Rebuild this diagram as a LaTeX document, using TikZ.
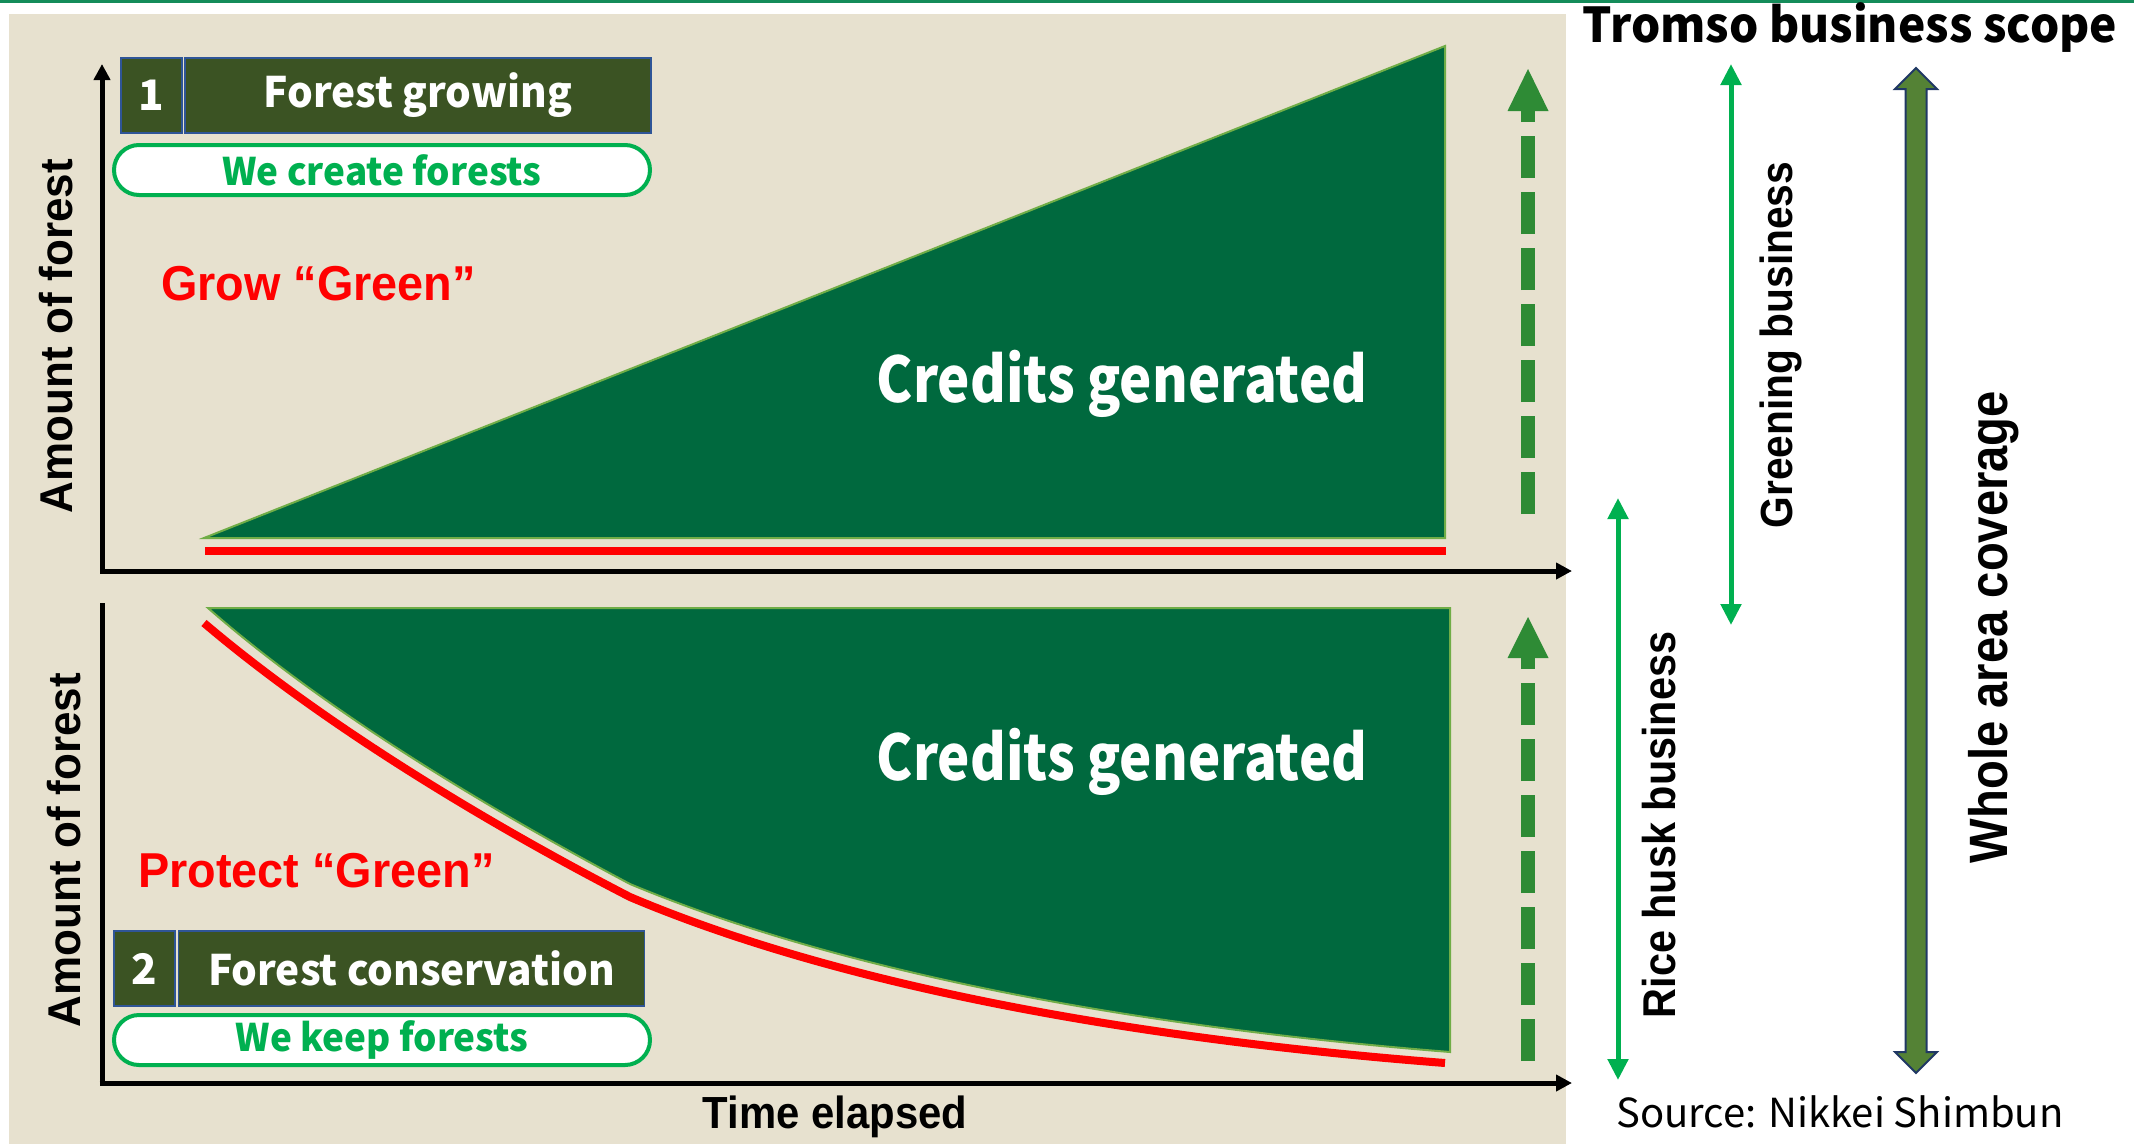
\documentclass[tikz,border=0pt]{standalone}
\usepackage{fontspec}
\usepackage{graphicx}
\setmainfont{Liberation Sans}
\newfontfamily\jpfont{Noto Sans CJK JP}
\usetikzlibrary{arrows.meta}
\definecolor{beige}{RGB}{231,225,207}
\definecolor{forest}{RGB}{0,105,62}
\definecolor{leaf}{RGB}{112,173,71}
\definecolor{olive}{RGB}{59,83,35}
\definecolor{navyb}{RGB}{47,85,151}
\definecolor{pillgreen}{RGB}{0,176,80}
\definecolor{dashgreen}{RGB}{46,139,53}
\definecolor{wholefill}{RGB}{84,130,53}
\definecolor{wholeedge}{RGB}{32,56,100}
\definecolor{topline}{RGB}{20,140,90}
\newcommand{\hsq}[2]{\scalebox{#1}[1]{#2}}
\begin{document}
\begin{tikzpicture}[x=1pt,y=-1pt,
  numbox/.style={draw=navyb, line width=1.5pt, fill=olive, text=white, minimum width=61pt, minimum height=75pt, inner sep=0pt, font=\jpfont\bfseries\fontsize{42}{42}\selectfont},
  titlebox/.style={numbox, minimum width=466pt},
  pill/.style={draw=pillgreen, line width=4pt, fill=white, rounded corners=25pt, minimum width=536pt, minimum height=50pt, inner sep=0pt, text=pillgreen, font=\jpfont\bfseries\fontsize{38}{38}\selectfont},
  redlabel/.style={text=red, anchor=base west, inner sep=0pt, font=\bfseries\fontsize{49}{49}\selectfont},
  axislabel/.style={rotate=90, anchor=base, inner sep=0pt, font=\bfseries\fontsize{46}{46}\selectfont},
  scopelabel/.style={rotate=90, anchor=base, inner sep=0pt, font=\bfseries\fontsize{46}{46}\selectfont},
  credits/.style={text=white, anchor=base, inner sep=0pt, font=\jpfont\bfseries\fontsize{63}{63}\selectfont},
  axis/.style={line width=5pt, -{Triangle[length=16pt,width=16pt]}},
  area/.style={fill=forest, draw=leaf, line width=2pt},
  lossline/.style={draw=red, line width=8pt},
  dasharrow/.style={draw=dashgreen, line width=14pt, dash pattern=on 42pt off 14pt},
  thinarrow/.style={draw=pillgreen, line width=5pt, {Triangle[length=21pt,width=20pt]}-{Triangle[length=21pt,width=20pt]}}
]
\useasboundingbox (0,0) rectangle (2134,1144);
% frame
\fill[topline] (0,0) rectangle (2134,2.5);
\fill[beige] (9,14) rectangle (1566,1144);

% upper chart
\path[area] (204,538) -- (1445,46) -- (1445,538) -- cycle;
\draw[lossline] (205,551) -- (1446,551);
\draw[axis] (102,571) -- (1572,571);
\draw[axis] (102,573.5) -- (102,64);

% lower chart
\path[area] (208,608) -- (1450,608) -- (1450,1052)
  .. controls (1150,1028) and (850,976) .. (630,884)
  .. controls (500,815) and (330,715) .. (208,608) -- cycle;
\draw[lossline] (204,623) .. controls (330,730) and (500,830) .. (630,897)
  .. controls (850,990) and (1150,1040) .. (1445,1063);
\draw[line width=5pt] (102,603) -- (102,1085.5);
\draw[axis] (99.5,1083) -- (1572,1083);

% dashed growth arrows
\draw[dasharrow] (1528,514) -- (1528,111);
\fill[dashgreen] (1507.5,111) -- (1548.5,111) -- (1528,69) -- cycle;
\draw[dasharrow] (1528,1061) -- (1528,658);
\fill[dashgreen] (1507.5,658) -- (1548.5,658) -- (1528,617) -- cycle;

% boxes
\node[numbox] (n1) at (151.5,95.5) {1};
\node[titlebox] (t1) at (418,95.5) {\hsq{0.965}{Forest growing}};
\node[pill] (p1) at (382,170) {\hsq{0.97}{We create forests}};
\node[numbox] (n2) at (144.5,968.5) {2};
\node[titlebox] (t2) at (411.5,968.5) {\hsq{0.965}{Forest conservation}};
\node[pill] (p2) at (382,1040) {\hsq{0.97}{We keep forests}};

% labels
\node[redlabel] (grow) at (161,300) {\hsq{0.955}{Grow “Green”}};
\node[redlabel] (protect) at (138,887) {\hsq{0.955}{Protect “Green”}};
\node[credits] (cr1) at (1122,402) {\hsq{0.865}{Credits generated}};
\node[credits] (cr2) at (1122,780) {\hsq{0.865}{Credits generated}};
\node[axislabel] (yl1) at (72,336) {\hsq{0.956}{Amount of forest}};
\node[axislabel] (yl2) at (80,850) {\hsq{0.956}{Amount of forest}};
\node[anchor=base, inner sep=0pt, font=\bfseries\fontsize{45}{45}\selectfont] (time) at (835,1128) {\hsq{0.93}{Time elapsed}};

% scope arrows
\draw[thinarrow] (1618,498) -- (1618,1080);
\draw[thinarrow] (1731,64) -- (1731,625);
\draw[fill=wholefill, draw=wholeedge, line width=2pt]
  (1916,68) -- (1937,89) -- (1926.5,89) -- (1926.5,1052) -- (1937,1052) -- (1916,1073)
  -- (1895,1052) -- (1905.5,1052) -- (1905.5,89) -- (1895,89) -- cycle;

\node[scopelabel] (rice) at (1675,825) {\hsq{0.9}{Rice husk business}};
\node[scopelabel, font=\bfseries\fontsize{45}{45}\selectfont] (green) at (1792,345) {\hsq{0.905}{Greening business}};
\node[scopelabel, font=\bfseries\fontsize{54}{54}\selectfont] (whole) at (2007,627) {\hsq{0.874}{Whole area coverage}};

\node[anchor=base, inner sep=0pt, font=\jpfont\bfseries\fontsize{48}{48}\selectfont] (title) at (1850,42) {\hsq{0.96}{Tromso business scope}};
\node[anchor=base, inner sep=0pt, font=\jpfont\fontsize{40}{40}\selectfont] (src) at (1840,1127) {Source: Nikkei Shimbun};
\end{tikzpicture}
\end{document}
